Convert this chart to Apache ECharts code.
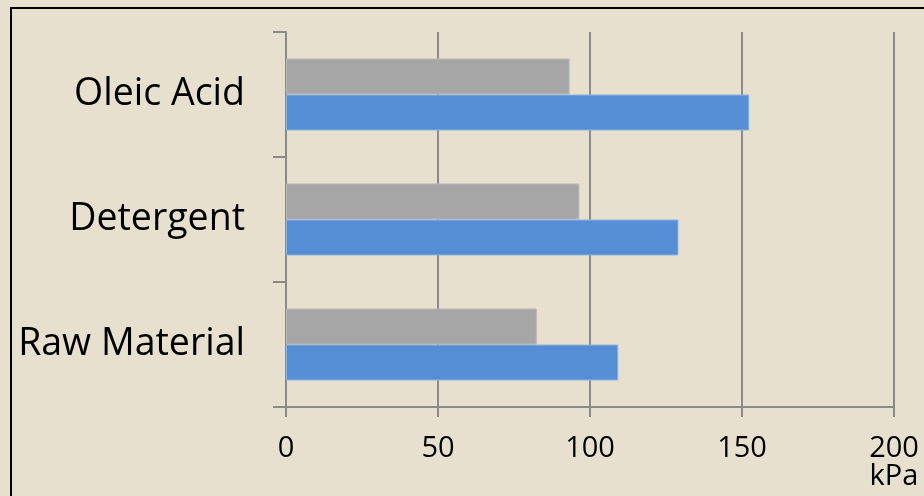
<!DOCTYPE html>
<html>
<head>
<meta charset="utf-8">
<script src="https://cdn.jsdelivr.net/npm/echarts@6/dist/echarts.min.js"></script>
<style>
html,body{margin:0;padding:0;background:#e7e0cf;}
#chart{width:924px;height:496px;}
</style>
</head>
<body>
<div id="chart"></div>
<script>
var categories = ['Raw Material', 'Detergent', 'Oleic Acid'];
var blueValues = [109.3, 129.1, 152.4];
var greyValues = [82.5, 96.5, 93.3];
var xTicks = [0, 50, 100, 150, 200];
var unitLabel = 'kPa';

var chart = echarts.init(document.getElementById('chart'), null, {renderer: 'canvas'});
var FONT = '"Open Sans", sans-serif';
var option = {
  backgroundColor: '#e7e0cf',
  animation: false,
  graphic: [{
    type: 'rect',
    shape: {x: 11, y: 8, width: 1000, height: 1000},
    style: {fill: 'none', stroke: '#000', lineWidth: 2},
    silent: true
  }],
  grid: {left: 286, right: 30, top: 32, bottom: 89, containLabel: false},
  xAxis: {
    type: 'value',
    min: xTicks[0],
    max: xTicks[xTicks.length - 1],
    interval: xTicks[1] - xTicks[0],
    axisLine: {show: true, lineStyle: {color: '#8a8a8a', width: 2}},
    axisTick: {show: true, length: 10, lineStyle: {color: '#8a8a8a', width: 2}},
    splitLine: {show: true, lineStyle: {color: '#8a8a8a', width: 2}},
    axisLabel: {
      color: '#000',
      fontFamily: FONT,
      fontSize: 29,
      lineHeight: 28,
      margin: 28,
      formatter: function (v) {
        return v === xTicks[xTicks.length - 1] ? v + '\n' + unitLabel : String(v);
      }
    }
  },
  yAxis: {
    type: 'category',
    data: categories,
    axisLine: {show: true, lineStyle: {color: '#8a8a8a', width: 2}},
    axisTick: {show: true, length: 13, lineStyle: {color: '#8a8a8a', width: 2}},
    splitLine: {show: false},
    axisLabel: {color: '#000', fontFamily: FONT, fontSize: 37.5, margin: 41}
  },
  series: [
    {
      name: 'grey',
      type: 'bar',
      data: greyValues,
      barWidth: 36,
      barGap: '0%',
      itemStyle: {color: '#a6a6a6', borderColor: '#b8b8b8', borderWidth: 1}
    },
    {
      name: 'blue',
      type: 'bar',
      data: blueValues,
      barWidth: 36,
      barGap: '0%',
      itemStyle: {color: '#558ed5', borderColor: '#8fb3e3', borderWidth: 1}
    }
  ]
};
chart.setOption(option);
</script>
</body>
</html>
